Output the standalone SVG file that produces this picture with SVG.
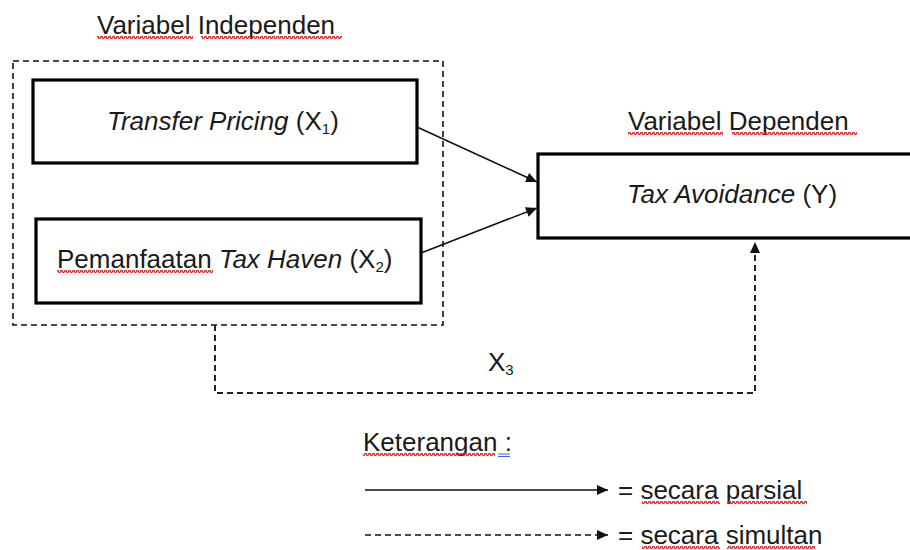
<svg xmlns="http://www.w3.org/2000/svg" width="910" height="550" viewBox="0 0 910 550">
<defs>
<marker id="ah" viewBox="0 0 11 10" refX="11" refY="5" markerWidth="11" markerHeight="10" markerUnits="userSpaceOnUse" orient="auto">
<path d="M0,0 L11,5 L0,10 z" fill="#111"/>
</marker>
<pattern id="sq" width="4" height="3" patternUnits="userSpaceOnUse">
<polyline points="0,2.5 1,0.5 2,0.5 3,2.5 4,2.5" fill="none" stroke="#e02020" stroke-width="1.3"/>
</pattern>
</defs>
<style>
text{font-family:"Liberation Sans",Arial,sans-serif;font-size:26px;fill:#1a1a1a}
.it{font-style:italic}
.sub{font-size:15px}
.box{fill:#fff;stroke:#000;stroke-width:3.2}
.grp{fill:none;stroke:#111;stroke-width:1.6;stroke-dasharray:6,4}
.ln{fill:none;stroke:#111;stroke-width:1.6}
.dl{fill:none;stroke:#222;stroke-width:2;stroke-dasharray:6,4}
.sq{fill:url(#sq)}
</style>
<rect width="910" height="550" fill="#fff"/>

<g id="independen-group">
<text x="97" y="34">Variabel Independen</text>
<rect class="grp" x="13" y="61" width="430" height="264"/>
<rect class="sq" x="97" y="36" width="96" height="3"/>
<rect class="sq" x="201" y="36" width="141" height="3"/>
</g>

<g id="x1">
<rect class="box" x="33" y="80" width="384" height="83"/>
<text x="107" y="130"><tspan class="it">Transfer Pricing</tspan> (X<tspan class="sub" dy="4">1</tspan><tspan dy="-4">)</tspan></text>
</g>

<g id="x2">
<rect class="box" x="36" y="219" width="385" height="84"/>
<text x="57" y="268">Pemanfaatan <tspan class="it">Tax Haven</tspan> (X<tspan class="sub" dy="4">2</tspan><tspan dy="-4">)</tspan></text>
<rect class="sq" x="57" y="270" width="156" height="3"/>
</g>

<g id="y">
<text x="628" y="130">Variabel Dependen</text>
<rect class="sq" x="628" y="132" width="95" height="3"/>
<rect class="sq" x="732" y="132" width="125" height="3"/>
<rect class="box" x="538" y="154" width="380" height="84"/>
<text x="627" y="203"><tspan class="it">Tax Avoidance</tspan> (Y)</text>
</g>

<g id="connectors">
<line class="ln" x1="417" y1="127" x2="537" y2="182" marker-end="url(#ah)"/>
<line class="ln" x1="421" y1="253" x2="537" y2="208" marker-end="url(#ah)"/>
<polyline class="dl" points="215,325 215,393 755,393 755,242" marker-end="url(#ah)"/>
<text x="488" y="371">X<tspan class="sub" dy="4">3</tspan></text>
</g>

<g id="legend">
<text x="363" y="451">Keterangan :</text>
<rect class="sq" x="363" y="453" width="132" height="3"/>
<line x1="498" y1="454" x2="510" y2="454" stroke="#3b6fd8" stroke-width="1"/>
<line x1="498" y1="456.5" x2="510" y2="456.5" stroke="#3b6fd8" stroke-width="1"/>
<line class="ln" x1="365" y1="490" x2="608" y2="490" marker-end="url(#ah)"/>
<text x="618" y="499">= secara parsial</text>
<rect class="sq" x="642" y="501" width="78" height="3"/>
<rect class="sq" x="727" y="501" width="80" height="3"/>
<line x1="365" y1="535" x2="608" y2="535" stroke="#111" stroke-width="1.6" stroke-dasharray="6,4" marker-end="url(#ah)"/>
<text x="618" y="544">= secara simultan</text>
<rect class="sq" x="642" y="546" width="78" height="3"/>
<rect class="sq" x="727" y="546" width="88" height="3"/>
</g>
</svg>
